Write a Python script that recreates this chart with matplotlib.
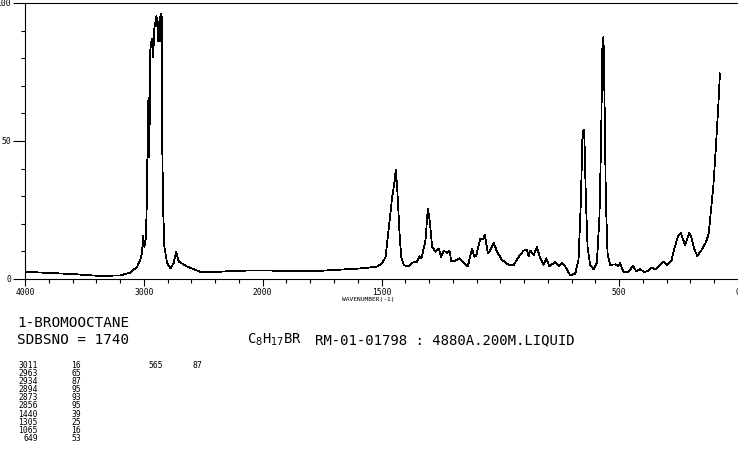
import matplotlib
matplotlib.use('Agg')
import matplotlib.pyplot as plt
import numpy as np

# spectrum (wavenumber, intensity)
wavenumber = [4000, 3800, 3600, 3367, 3200, 3114, 3055, 3030, 3015, 3007, 2996, 2982, 2973,
              2965, 2960, 2954, 2945, 2934, 2922, 2911, 2894, 2889, 2880, 2873, 2867, 2861,
              2856, 2850, 2847, 2838, 2827, 2804, 2776, 2749, 2728, 2706, 2636, 2523, 2382,
              2245, 2101, 1770, 1576, 1518, 1497, 1483, 1469, 1455, 1444, 1440, 1434, 1424,
              1417, 1406, 1389, 1371, 1350, 1340, 1332, 1315, 1305, 1297, 1287, 1273, 1259,
              1249, 1238, 1224, 1214, 1206, 1189, 1171, 1154, 1137, 1119, 1109, 1101, 1084,
              1073, 1065, 1053, 1045, 1028, 1014, 993, 965, 944, 923, 902, 888, 881, 874,
              860, 846, 832, 818, 807, 793, 769, 755, 741, 727, 706, 685, 671, 661, 654,
              649, 646, 640, 633, 622, 608, 594, 583, 576, 570, 566, 562, 556, 549, 538,
              517, 503, 496, 482, 461, 442, 429, 412, 395, 377, 363, 349, 332, 314, 297,
              279, 268, 253, 241, 230, 223, 213, 205, 195, 185, 171, 153, 134, 123, 115,
              104, 92, 83, 76]
intensity = [2.6, 2.2, 1.8, 1.1, 1.3, 2.3, 4.5, 7.0, 9.4, 15.6, 11.7, 15.0, 32.0,
             63.6, 65.5, 44.0, 83.0, 87.0, 80.5, 91.0, 95.3, 94.0, 86.0, 93.0, 86.0, 95.0,
             96.0, 95.0, 55.0, 26.0, 11.7, 5.7, 3.9, 5.7, 9.9, 6.3, 4.5, 2.6, 2.6,
             2.9, 3.1, 2.9, 3.9, 4.5, 5.7, 8.0, 19.0, 29.8, 35.9, 39.5, 33.0, 16.5,
             8.0, 5.0, 4.5, 5.9, 6.3, 8.3, 7.5, 14.0, 25.5, 21.0, 11.7, 9.9, 11.0,
             8.0, 10.3, 9.4, 10.3, 6.3, 6.7, 7.5, 5.7, 4.5, 11.0, 8.0, 8.6, 14.7,
             14.4, 16.0, 9.4, 9.9, 13.2, 9.9, 6.9, 5.1, 5.1, 8.0, 10.3, 10.6, 8.3, 10.3,
             8.7, 11.5, 7.5, 5.1, 7.5, 4.5, 6.3, 4.7, 5.9, 4.5, 1.4, 1.9, 6.9, 28.6, 53.4,
             54.0, 50.4, 28.6, 11.7, 5.1, 3.5, 5.7, 22.6, 50.4, 87.2, 87.6, 67.3, 28.6, 9.4, 5.1,
             5.3, 4.7, 5.7, 2.6, 2.6, 4.8, 2.9, 3.5, 2.6, 2.9, 4.2, 3.5, 4.7, 6.3, 5.1,
             6.9, 11.0, 15.3, 16.8, 14.0, 12.3, 14.7, 16.8, 14.7, 11.0, 8.3, 10.6, 13.5, 16.5, 23.8,
             33.4, 49.2, 62.4, 74.5]

x_tick_values = [4000, 3000, 2000, 1500, 500, 0]
x_tick_labels = ['4000', '3000', '2000', '1500', '500', '0']
y_tick_values = [0, 50, 100]
y_tick_labels = ['0', '50', '100']

peak_wn = ['3011', '2963', '2934', '2894', '2873', '2856', '1440', '1305', '1065', '649']
peak_int = ['16', '65', '87', '95', '93', '95', '39', '25', '16', '53']
peak2_wn = ['565']
peak2_int = ['87']


def squeeze(w):
    # above 2000 cm-1 the axis is drawn at half scale
    w = np.asarray(w, dtype=float)
    return np.where(w > 2000, 2000 + (w - 2000) / 2, w)


W, H = 738, 457
fig = plt.figure(figsize=(W / 100, H / 100), dpi=100)
ax = fig.add_axes([25 / W, (H - 279) / H, 1 - 25 / W, 276 / H])

ax.plot(squeeze(wavenumber), intensity, color='black', lw=0.55, antialiased=False)

ax.set_xlim(3000, 0)
ax.set_ylim(0, 100)
ax.spines['right'].set_visible(False)
for s in ['top', 'left', 'bottom']:
    ax.spines[s].set_linewidth(0.8)

mono = 'DejaVu Sans Mono'
ax.set_xticks(squeeze(x_tick_values))
ax.set_xticklabels(x_tick_labels, fontsize=5.8, family=mono)
ax.set_xticks(np.arange(0, 3001, 100), minor=True)
ax.set_yticks(y_tick_values)
ax.set_yticklabels(y_tick_labels, fontsize=5.8, family=mono)
ax.set_yticks(np.arange(0, 101, 10), minor=True)
ax.tick_params(axis='x', which='major', length=5, width=0.8, pad=1.5)
ax.tick_params(axis='x', which='minor', length=3, width=0.8)
ax.tick_params(axis='y', which='major', length=9, width=0.8, pad=1)
ax.tick_params(axis='y', which='minor', length=3, width=0.8)


def put(x, y, s, size, ha='left'):
    fig.text(x / W, 1 - y / H, s, fontsize=size, family=mono, ha=ha, va='center')


put(368, 299, 'WAVENUMBER(-1)', 4.5, ha='center')
put(17, 323, '1-BROMOOCTANE', 10.3)
put(17, 340, 'SDBSNO = 1740', 10.3)
put(247, 340, r'C$_8$H$_{17}$BR', 10)
put(315, 340, 'RM-01-01798 : 4880A.200M.LIQUID', 10.1)

for i in range(len(peak_wn)):
    y = 365 + i * 8.2
    put(38, y, peak_wn[i], 5.8, ha='right')
    put(81, y, peak_int[i], 5.8, ha='right')
for i in range(len(peak2_wn)):
    y = 365 + i * 8.2
    put(163, y, peak2_wn[i], 5.8, ha='right')
    put(202, y, peak2_int[i], 5.8, ha='right')

fig.savefig('out.png', dpi=100)
